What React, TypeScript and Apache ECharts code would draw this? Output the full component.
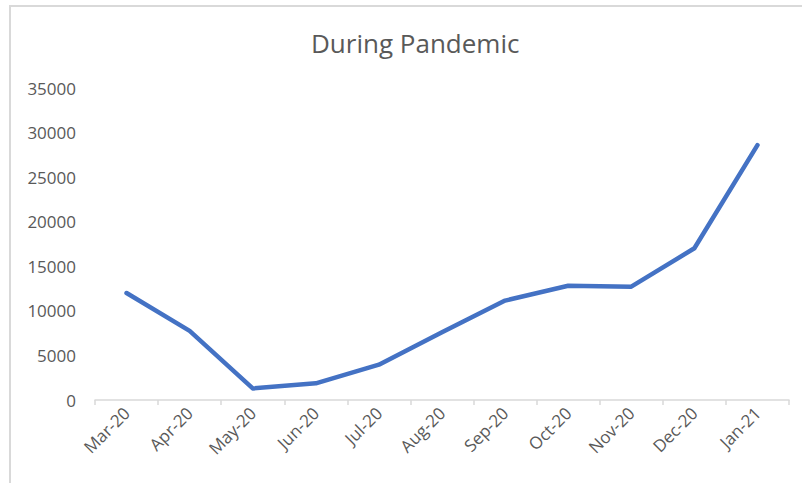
import React, { useEffect, useRef } from "react";
import * as echarts from "echarts";

const titleText = "During Pandemic";
const categories = ["Mar-20", "Apr-20", "May-20", "Jun-20", "Jul-20", "Aug-20", "Sep-20", "Oct-20", "Nov-20", "Dec-20", "Jan-21"];
const values = [12000, 7750, 1300, 1870, 3960, 7600, 11150, 12820, 12710, 17020, 28600];

export default function App() {
  const ref = useRef<HTMLDivElement>(null);
  useEffect(() => {
    document.body.style.margin = "0";
    const chart = echarts.init(ref.current!, null, { renderer: "svg" });
    const font = "'Open Sans', 'Liberation Sans', sans-serif";
    chart.setOption({
      animation: false,
      backgroundColor: "#ffffff",
      title: {
        text: titleText,
        left: 306,
        top: 25,
        textStyle: { color: "#595959", fontSize: 26, fontWeight: "normal", fontFamily: font },
      },
      graphic: [
        {
          type: "rect",
          shape: { x: 10, y: 6, width: 900, height: 600 },
          style: { fill: "none", stroke: "#d9d9d9", lineWidth: 2 },
          silent: true,
          z: -1,
        },
      ],
      grid: { left: 95, right: 13, top: 88, bottom: 83, containLabel: false },
      xAxis: {
        type: "category",
        data: categories,
        boundaryGap: true,
        axisLine: { show: true, lineStyle: { color: "#d9d9d9", width: 1.5 } },
        axisTick: { show: true, length: 5, lineStyle: { color: "#d9d9d9", width: 1.5 } },
        axisLabel: { rotate: 45, color: "#595959", fontSize: 17, fontFamily: font, margin: 10 },
        splitLine: { show: false },
      },
      yAxis: {
        type: "value",
        min: 0,
        max: 35000,
        interval: 5000,
        axisLine: { show: false },
        axisTick: { show: false },
        splitLine: { show: false },
        axisLabel: { color: "#595959", fontSize: 17, fontFamily: font, margin: 19, formatter: (v: number) => String(v) },
      },
      series: [
        {
          type: "line",
          data: values,
          showSymbol: false,
          symbol: "none",
          lineStyle: { color: "#4472C4", width: 4.5, cap: "round", join: "round" },
        },
      ],
    });
    return () => chart.dispose();
  }, []);
  return <div ref={ref} style={{ width: 802, height: 483 }} />;
}
